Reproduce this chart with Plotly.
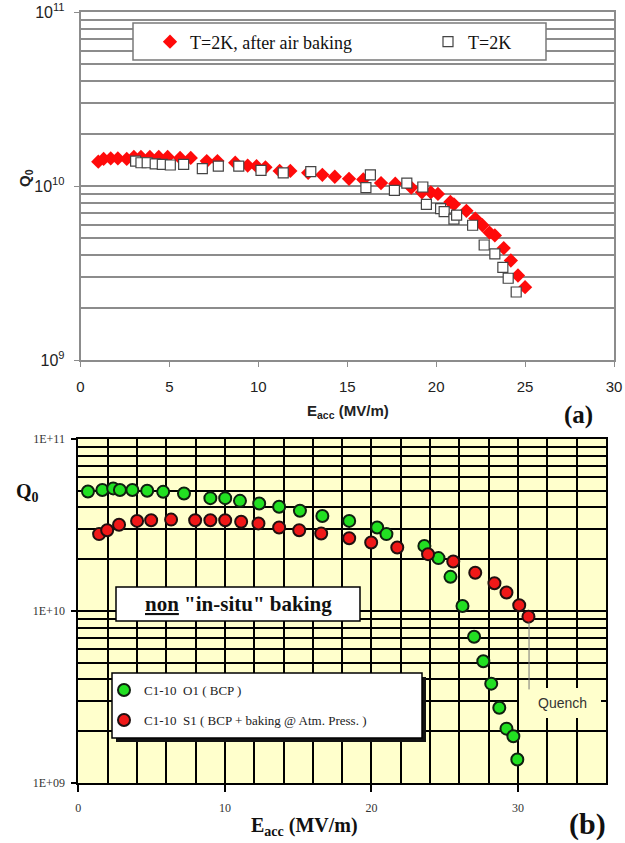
import plotly.graph_objects as go

# ---------------- data ----------------
# Panel (a)
ea_baked = [1.0, 1.3, 1.7, 2.1, 2.6, 3.0, 3.4, 3.9, 4.4, 4.9, 5.6, 6.2, 7.1, 7.7, 8.7,
            9.4, 9.9, 10.4, 11.2, 11.8, 12.8, 13.6, 14.3, 15.1, 15.9, 16.9, 17.7, 18.6,
            19.2, 19.7, 20.1, 20.8, 21.0, 21.7, 22.2, 22.6, 23.0, 23.3, 23.8, 24.2, 24.6, 25.0]
qa_baked = [1.38e10, 1.43e10, 1.44e10, 1.44e10, 1.43e10, 1.47e10, 1.47e10, 1.47e10, 1.47e10,
            1.47e10, 1.45e10, 1.45e10, 1.39e10, 1.39e10, 1.36e10, 1.31e10, 1.30e10, 1.28e10,
            1.22e10, 1.22e10, 1.19e10, 1.16e10, 1.13e10, 1.10e10, 1.09e10, 1.04e10, 1.03e10,
            9.8e9, 9.2e9, 9.2e9, 9.0e9, 8.1e9, 7.85e9, 7.2e9, 6.5e9, 5.95e9, 5.4e9, 5.2e9,
            4.4e9, 3.73e9, 3.06e9, 2.62e9]
ea_plain = [3.1, 3.4, 3.75, 4.2, 4.6, 5.05, 5.8, 6.85, 7.75, 8.9, 10.15, 11.4, 12.95, 16.05,
            16.3, 17.65, 18.35, 19.25, 19.45, 20.25, 20.45, 21.0, 21.15, 22.05, 22.7, 23.3,
            23.75, 24.05, 24.5]
qa_plain = [1.39e10, 1.36e10, 1.36e10, 1.34e10, 1.33e10, 1.32e10, 1.33e10, 1.26e10, 1.30e10,
            1.30e10, 1.23e10, 1.19e10, 1.21e10, 9.78e9, 1.16e10, 9.44e9, 1.04e10, 9.87e9,
            7.85e9, 7.41e9, 7.13e9, 6.45e9, 6.8e9, 5.95e9, 4.58e9, 4.07e9, 3.41e9, 2.95e9, 2.46e9]
name_a1 = "T=2K, after air baking"
name_a2 = "T=2K"

# Panel (b)
eb_o1 = [0.66, 1.64, 2.38, 2.84, 3.69, 4.70, 5.79, 7.21, 9.01, 10.02, 11.03, 12.34, 13.7,
         15.12, 16.65, 18.48, 20.39, 21.02, 23.61, 24.57, 25.39, 26.21, 27.0, 27.63, 28.17,
         28.72, 29.21, 29.68, 29.95]
qb_o1 = [4.95e10, 5.05e10, 5.16e10, 5.05e10, 5.05e10, 5.0e10, 4.93e10, 4.82e10, 4.53e10,
         4.53e10, 4.37e10, 4.22e10, 4.04e10, 3.83e10, 3.57e10, 3.34e10, 3.06e10, 2.8e10,
         2.39e10, 2.03e10, 1.58e10, 1.07e10, 7.08e9, 5.1e9, 3.78e9, 2.74e9, 2.07e9, 1.87e9, 1.37e9]
eb_s1 = [1.42, 1.97, 2.78, 4.01, 4.97, 6.33, 7.97, 9.01, 10.02, 11.11, 12.29, 13.7, 15.07,
         16.57, 18.48, 19.98, 21.76, 23.86, 25.58, 27.08, 28.39, 29.21, 30.08, 30.71]
qb_s1 = [2.8e10, 2.95e10, 3.17e10, 3.34e10, 3.37e10, 3.4e10, 3.37e10, 3.37e10, 3.37e10,
         3.3e10, 3.23e10, 3.06e10, 2.95e10, 2.82e10, 2.65e10, 2.5e10, 2.34e10, 2.14e10,
         1.94e10, 1.67e10, 1.45e10, 1.28e10, 1.08e10, 9.27e9]
name_b1 = "C1-10  O1 ( BCP )"
name_b2 = "C1-10  S1 ( BCP + baking @ Atm. Press. )"

decades = [1e9, 1e10, 1e11]
ticks_a = ["10<sup>9</sup>", "10<sup>10</sup>", "10<sup>11</sup>"]
ticks_b = ["1E+09", "1E+10", "1E+11"]
minor_vals = [m * d for d in [1e9, 1e10] for m in range(2, 10)]

# ---------------- layout helpers ----------------
W, H = 625, 843
def px(x):
    return x / W
def py(y):
    return 1 - y / H

SANS = "Liberation Sans"
SERIF = "Liberation Serif"
GRID_A = "#8c8c8c"

fig = go.Figure()

fig.add_trace(go.Scatter(x=ea_baked, y=qa_baked, mode="markers", name=name_a1,
                         marker=dict(symbol="diamond", size=11, color="#ff0a0a",
                                     line=dict(width=0)),
                         xaxis="x", yaxis="y", legend="legend"))
fig.add_trace(go.Scatter(x=ea_plain, y=qa_plain, mode="markers", name=name_a2,
                         marker=dict(symbol="square", size=10, color="white",
                                     line=dict(width=1.2, color="#444444")),
                         xaxis="x", yaxis="y", legend="legend2"))
fig.add_trace(go.Scatter(x=eb_o1, y=qb_o1, mode="markers", name=name_b1,
                         marker=dict(symbol="circle", size=12, color="#22e022",
                                     line=dict(width=2, color="#102010")),
                         xaxis="x2", yaxis="y2", legend="legend3"))
fig.add_trace(go.Scatter(x=eb_s1, y=qb_s1, mode="markers", name=name_b2,
                         marker=dict(symbol="circle", size=12, color="#f01818",
                                     line=dict(width=2, color="#201010")),
                         xaxis="x2", yaxis="y2", legend="legend4"))

leg_common = dict(bgcolor="rgba(0,0,0,0)", borderwidth=0, xanchor="left", yanchor="middle",
                  itemclick=False, itemdoubleclick=False)

fig.update_layout(
    width=W, height=H, autosize=False,
    margin=dict(l=0, r=0, t=0, b=0, pad=0),
    paper_bgcolor="white", plot_bgcolor="white",
    showlegend=True,
    xaxis=dict(domain=[px(80.5), px(614)], range=[0, 30], dtick=5, anchor="y", automargin=False,
               showgrid=False, zeroline=False, showline=True, linecolor=GRID_A,
               linewidth=1.5, mirror=True, ticks="outside", ticklen=5, tickcolor=GRID_A,
               ticklabelstandoff=7,
               tickfont=dict(family=SANS, size=15, color="#222")),
    yaxis=dict(domain=[py(360), py(12)], type="log", range=[9, 11], anchor="x", automargin=False,
               tickmode="array", tickvals=decades, ticktext=ticks_a,
               showgrid=True, gridcolor=GRID_A, gridwidth=1.5, zeroline=False,
               showline=True, linecolor=GRID_A, linewidth=1.5, mirror=True,
               ticks="outside", ticklen=5, tickcolor=GRID_A, ticklabelstandoff=6,
               tickfont=dict(family=SANS, size=16, color="#222"),
               minor=dict(tickmode="array", tickvals=minor_vals, showgrid=True,
                          gridcolor=GRID_A, gridwidth=1.5, ticks="")),
    xaxis2=dict(domain=[px(78.3), px(606)], range=[0, 36], anchor="y2", automargin=False,
                tickmode="array", tickvals=[0, 10, 20, 30],
                showgrid=True, gridcolor="black", gridwidth=2, zeroline=False,
                showline=True, linecolor="black", linewidth=2, mirror=True,
                ticks="outside", ticklen=7, tickcolor="black", tickwidth=1.5,
                ticklabelstandoff=6,
                tickfont=dict(family=SERIF, size=12, color="#333"),
                minor=dict(dtick=2, showgrid=True, gridcolor="black", gridwidth=2, ticks="")),
    yaxis2=dict(domain=[py(783), py(439)], type="log", range=[9, 11], anchor="x2", automargin=False,
                tickmode="array", tickvals=decades, ticktext=ticks_b,
                showgrid=True, gridcolor="black", gridwidth=2, zeroline=False,
                showline=True, linecolor="black", linewidth=2, mirror=True,
                ticks="outside", ticklen=5, tickcolor="black", tickwidth=1.5,
                ticklabelstandoff=4,
                tickfont=dict(family=SERIF, size=12, color="#333"),
                minor=dict(tickmode="array", tickvals=minor_vals, showgrid=True,
                           gridcolor="black", gridwidth=2, ticks="")),
    legend=dict(x=px(150), y=py(42), font=dict(family=SERIF, size=18, color="#111"), **leg_common),
    legend2=dict(x=px(428), y=py(42), font=dict(family=SERIF, size=18, color="#111"), **leg_common),
    legend3=dict(x=px(104), y=py(690), font=dict(family=SERIF, size=13, color="#222"), **leg_common),
    legend4=dict(x=px(104), y=py(720), font=dict(family=SERIF, size=13, color="#222"), **leg_common),
)

shapes = [
    # yellow background panel (b)
    dict(type="rect", xref="x2 domain", yref="y2 domain", x0=0, x1=1, y0=0, y1=1,
         fillcolor="#ffffcc", line=dict(width=0), layer="below"),
    # legend box (a)
    dict(type="rect", xref="paper", yref="paper", x0=px(133), x1=px(546), y0=py(60), y1=py(23),
         fillcolor="white", line=dict(color="#7a7a7a", width=1.5), layer="above"),
    # "non in-situ" box
    dict(type="rect", xref="paper", yref="paper", x0=px(116), x1=px(360), y0=py(621), y1=py(587),
         fillcolor="white", line=dict(color="black", width=1.5), layer="above"),
    # legend (b) shadow + box
    dict(type="rect", xref="paper", yref="paper", x0=px(116), x1=px(426), y0=py(742), y1=py(677),
         fillcolor="#111", line=dict(width=0), layer="above"),
    dict(type="rect", xref="paper", yref="paper", x0=px(112), x1=px(422), y0=py(738), y1=py(673),
         fillcolor="white", line=dict(color="black", width=1.5), layer="above"),
    # Quench background + pointer line
    dict(type="rect", xref="paper", yref="paper", x0=px(519), x1=px(601), y0=py(718), y1=py(688),
         fillcolor="#ffffcc", line=dict(width=0), layer="above"),
    dict(type="line", xref="x2", yref="y2", x0=30.75, x1=30.75, y0=8.6e9, y1=3.5e9,
         line=dict(color="#777", width=1), layer="above"),
]
fig.update_layout(shapes=shapes)

ann = [
    dict(text="<b>E<sub>acc</sub> (MV/m)</b>", x=px(348), y=py(411), font=dict(family=SANS, size=15, color="#222")),
    dict(text="<b>(a)</b>", x=px(578), y=py(415), font=dict(family=SERIF, size=25, color="#111")),
    dict(text="<b>Q<sub>0</sub></b>", x=px(25), y=py(178), textangle=-90, font=dict(family=SANS, size=15, color="#222")),
    dict(text="<b>Q<sub>0</sub></b>", x=px(27), y=py(492), font=dict(family=SERIF, size=20, color="#111")),
    dict(text="<b><u>non</u> \"in-situ\" baking</b>", x=px(238), y=py(604), font=dict(family=SERIF, size=21, color="#111")),
    dict(text="Quench", x=px(562), y=py(703), font=dict(family=SANS, size=14, color="#333")),
    dict(text="<b>E<sub>acc</sub> (MV/m)</b>", x=px(304), y=py(826), font=dict(family=SERIF, size=20, color="#111")),
    dict(text="<b>(b)</b>", x=px(587), y=py(824), font=dict(family=SERIF, size=30, color="#111")),
]
for a in ann:
    a.update(xref="paper", yref="paper", showarrow=False, xanchor="center", yanchor="middle")
fig.update_layout(annotations=ann)

fig.write_html(
    "out.html",
    config={"displayModeBar": False},
    post_script="document.body.style.margin='0px';document.body.style.overflow='hidden';"
                "document.documentElement.style.overflow='hidden';",
)
